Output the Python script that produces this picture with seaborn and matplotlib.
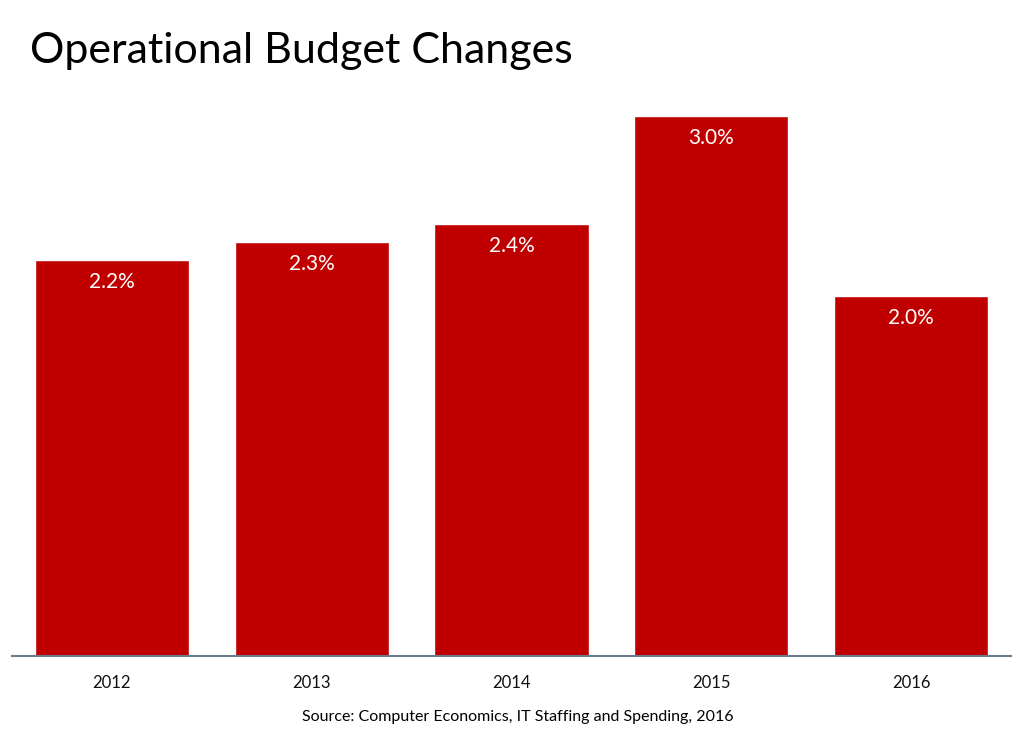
import matplotlib
matplotlib.use("Agg")
import matplotlib.pyplot as plt
import seaborn as sns
import pandas as pd

# data
years = ["2012", "2013", "2014", "2015", "2016"]
changes = [2.2, 2.3, 2.4, 3.0, 2.0]
bar_labels = ["2.2%", "2.3%", "2.4%", "3.0%", "2.0%"]

df = pd.DataFrame({"year": years, "change": changes})

sns.set_style("white")
plt.rcParams['font.family'] = ['Lato', 'DejaVu Sans']

fig = plt.figure(figsize=(10.24, 7.38), dpi=100)
ax = fig.add_axes([12 / 1024, 82 / 738, 999 / 1024, 576 / 738])

sns.barplot(data=df, x="year", y="change", color="#C00000", saturation=1,
            width=0.772, ax=ax)

ax.set_ylim(0, 3.2)
ax.set_xlim(-0.5, 4.5)
ax.set_xlabel("")
ax.set_ylabel("")
ax.set_yticks([])
for s in ["top", "right", "left"]:
    ax.spines[s].set_visible(False)
ax.spines["bottom"].set_color("#6E7B8F")
ax.spines["bottom"].set_linewidth(1.5)
ax.tick_params(axis="x", length=0, pad=14, labelsize=12, labelcolor="#111111")

for i, (v, lab) in enumerate(zip(changes, bar_labels)):
    ax.annotate(lab, (i, v), xytext=(0, -22), textcoords="offset pixels",
                ha="center", va="center", color="white", fontsize=15)

fig.text(30 / 1024, 1 - 51 / 738, "Operational Budget Changes", fontsize=31,
         ha="left", va="center", color="black")
fig.text(518 / 1024, 1 - 717 / 738, "Source: Computer Economics, IT Staffing and Spending, 2016",
         fontsize=11.5, ha="center", va="center", color="black")

fig.savefig("out.png", dpi=100)
